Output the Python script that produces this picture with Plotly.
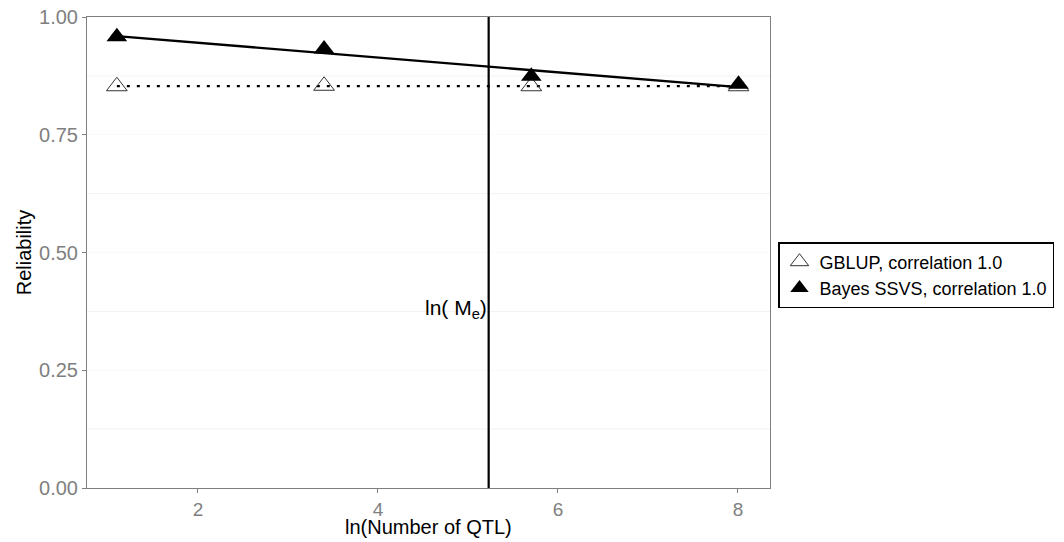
import numpy as np
import plotly.graph_objects as go

# Number of simulated QTL and reliabilities per method
n_qtl = [3, 30, 300, 3000]
gblup_rel = [0.853, 0.854, 0.853, 0.853]
bayes_rel = [0.958, 0.932, 0.874, 0.857]
ln_me = 5.23  # log of the effective number of chromosome segments

x = np.log(n_qtl)

# Straight-line fits drawn through each method's points
def lm_fit(xv, yv):
    b1, b0 = np.polyfit(xv, yv, 1)
    xs = np.array([xv.min(), xv.max()])
    return xs, b0 + b1 * xs

gx, gy = lm_fit(x, np.array(gblup_rel))
bx, by = lm_fit(x, np.array(bayes_rel))

FONT = "Liberation Sans, Arial, sans-serif"

fig = go.Figure()

# fitted lines (not in legend)
fig.add_trace(go.Scatter(x=gx, y=gy, mode="lines", showlegend=False,
                         line=dict(color="black", width=2.2, dash="3px,7px"),
                         hoverinfo="skip"))
fig.add_trace(go.Scatter(x=bx, y=by, mode="lines", showlegend=False,
                         line=dict(color="black", width=2.4),
                         hoverinfo="skip"))

# points (legend entries show symbol only)
fig.add_trace(go.Scatter(x=x, y=gblup_rel, mode="markers",
                         name="GBLUP, correlation 1.0",
                         marker=dict(symbol="triangle-up-open", size=18,
                                     color="#333333", line=dict(width=1))))
fig.add_trace(go.Scatter(x=x, y=bayes_rel, mode="markers",
                         name="Bayes SSVS, correlation 1.0",
                         marker=dict(symbol="triangle-up", size=18,
                                     color="black")))

# vertical reference line at ln(Me)
fig.add_vline(x=ln_me, line=dict(color="black", width=2.2))
fig.add_annotation(x=ln_me, y=0.38, xref="x", yref="y",
                   text="ln( M<sub>e</sub>)", showarrow=False,
                   xanchor="right", yanchor="middle", xshift=0,
                   font=dict(family=FONT, size=21, color="black"))

# x-axis title placed just under the tick labels
fig.add_annotation(x=0.5, y=-0.083, xref="paper", yref="paper",
                   text="ln(Number of QTL)", showarrow=False,
                   xanchor="center", yanchor="middle",
                   font=dict(family=FONT, size=20, color="black"))

grid_minor = [0.125, 0.375, 0.625, 0.875]
for g in grid_minor:
    fig.add_hline(y=g, line=dict(color="#f2f2f2", width=1), layer="below")

fig.update_layout(
    width=1064, height=542,
    margin=dict(l=87, r=294, t=17, b=54, autoexpand=False),
    plot_bgcolor="white", paper_bgcolor="white",
    font=dict(family=FONT, size=20, color="black"),
    showlegend=True,
    legend=dict(xref="container", yref="container", x=778 / 1064,
                y=1 - 242 / 542, xanchor="left", yanchor="top",
                bordercolor="black", borderwidth=1.5,
                font=dict(family=FONT, size=18, color="black"),
                itemwidth=30, tracegroupgap=0,
                bgcolor="white"),
)

axis_common = dict(showline=True, linecolor="#7f7f7f", linewidth=1, mirror=True,
                   ticks="outside", ticklen=4, tickcolor="#7f7f7f",
                   zeroline=False, automargin=False)

fig.update_xaxes(range=[0.767, 8.356], tickvals=[2, 4, 6, 8],
                 showgrid=False,
                 tickfont=dict(family=FONT, size=19, color="#7f7f7f"),
                 **axis_common)
fig.update_yaxes(range=[0, 1.0], tickvals=[0, 0.25, 0.5, 0.75, 1.0],
                 ticktext=["0.00", "0.25", "0.50", "0.75", "1.00"],
                 showgrid=True, gridcolor="#fafafa",
                 tickfont=dict(family=FONT, size=20, color="#7f7f7f"),
                 title=dict(text="Reliability", standoff=2,
                            font=dict(family=FONT, size=20, color="black")),
                 **axis_common)

fig.write_html("out.html")
